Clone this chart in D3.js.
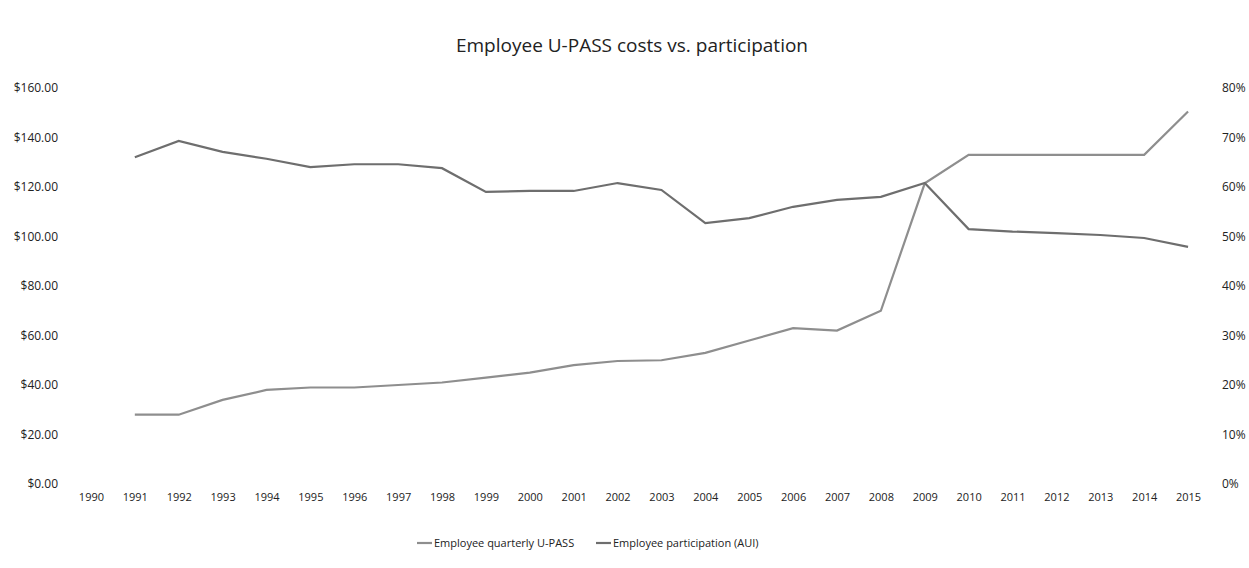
<!DOCTYPE html>
<html>
<head>
<meta charset="utf-8">
<script src="https://cdn.jsdelivr.net/npm/d3@7"></script>
<style>
  body { margin: 0; background: #fff; }
  text { font-family: "Open Sans", "Noto Sans", sans-serif; fill: #222; }
</style>
</head>
<body>
<svg id="chart" width="1249" height="568"></svg>
<script>
// categories (1990 has no data point)
const years = d3.range(1990, 2016).map(String);

// quarterly U-PASS cost for employees ($), 1991-2015
const costYears = d3.range(1991, 2016).map(String);
const costValues = [28, 28, 34, 38, 39, 39, 40, 41, 43, 45, 48, 49.7, 50, 53, 58, 63, 62, 70, 121.5, 133, 133, 133, 133, 133, 150.5];

// employee participation (AUI), 1991-2015
const partValues = [0.66, 0.693, 0.671, 0.657, 0.64, 0.646, 0.646, 0.638, 0.59, 0.592, 0.592, 0.608, 0.594, 0.527, 0.537, 0.56, 0.574, 0.58, 0.608, 0.515, 0.51, 0.507, 0.503, 0.497, 0.479];

const leftTicks = [0, 20, 40, 60, 80, 100, 120, 140, 160];
const rightTicks = [0, 0.1, 0.2, 0.3, 0.4, 0.5, 0.6, 0.7, 0.8];

const SERIES = [
  { name: "Employee quarterly U-PASS", color: "#8e8e8e" },
  { name: "Employee participation (AUI)", color: "#6e6e6e" }
];

const svg = d3.select("#chart");

const x = d3.scalePoint().domain(years).range([69, 1210]).padding(0.5);
const yL = d3.scaleLinear().domain([0, 160]).range([484, 88]);
const yR = d3.scaleLinear().domain([0, 0.8]).range([484, 88]);

// title
svg.append("text")
  .attr("x", 632).attr("y", 52)
  .attr("text-anchor", "middle")
  .style("font-size", "19px")
  .text("Employee U-PASS costs vs. participation");

// left axis (labels only)
const axL = svg.append("g").attr("transform", "translate(64,0)")
  .call(d3.axisLeft(yL).tickValues(leftTicks).tickSize(0).tickFormat(d => "$" + d3.format(".2f")(d)));
axL.select(".domain").remove();
axL.selectAll("text").style("font-size", "12px").style("fill", "#222").attr("x", -6);

// right axis (labels only)
const axR = svg.append("g").attr("transform", "translate(1216,0)")
  .call(d3.axisRight(yR).tickValues(rightTicks).tickSize(0).tickFormat(d3.format(".0%")));
axR.select(".domain").remove();
axR.selectAll("text").style("font-size", "12px").style("fill", "#222").attr("x", 6);

// bottom axis (labels only)
const axB = svg.append("g").attr("transform", "translate(0,490)")
  .call(d3.axisBottom(x).tickSize(0));
axB.select(".domain").remove();
axB.selectAll("text").style("font-size", "11px").style("fill", "#222");

// lines
const costLine = d3.line().x((d, i) => x(costYears[i])).y(d => yL(d));
const partLine = d3.line().x((d, i) => x(costYears[i])).y(d => yR(d));

svg.append("path").datum(costValues)
  .attr("d", costLine)
  .attr("fill", "none")
  .attr("stroke", SERIES[0].color)
  .attr("stroke-width", 2.2);

svg.append("path").datum(partValues)
  .attr("d", partLine)
  .attr("fill", "none")
  .attr("stroke", SERIES[1].color)
  .attr("stroke-width", 2.2);

// legend
const legendX = [417, 596];
const legend = svg.selectAll(".legend-item")
  .data(SERIES)
  .join("g")
  .attr("class", "legend-item")
  .attr("transform", (d, i) => `translate(${legendX[i]},543)`);

legend.append("line")
  .attr("x1", 0).attr("x2", 15)
  .attr("stroke", d => d.color)
  .attr("stroke-width", 2.2);

legend.append("text")
  .attr("x", 17).attr("dy", "0.35em")
  .style("font-size", "11px")
  .text(d => d.name);
</script>
</body>
</html>
